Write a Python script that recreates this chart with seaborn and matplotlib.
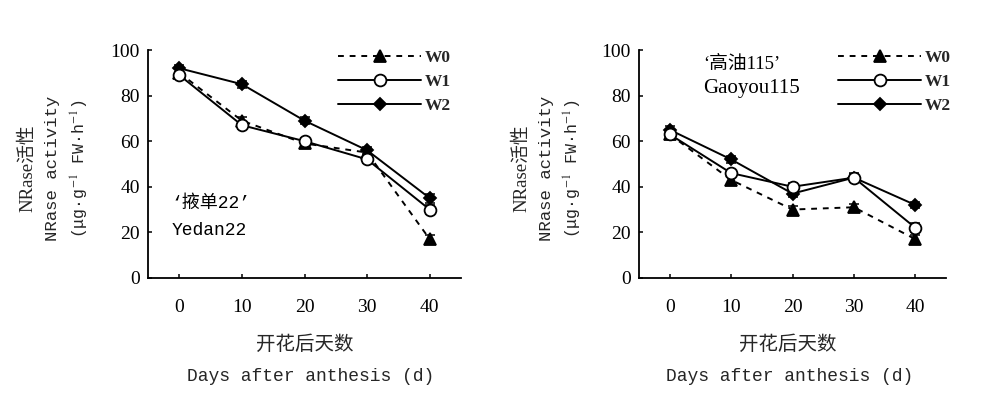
import matplotlib
matplotlib.use("Agg")
import matplotlib.pyplot as plt
import seaborn as sns
import pandas as pd

# ---------------- data ----------------
days = [0, 10, 20, 30, 40]
series_names = ["W0", "W1", "W2"]

yedan_w0 = [90, 69, 59, 55, 17]
yedan_w1 = [89, 67, 60, 52, 30]
yedan_w2 = [92, 85, 69, 56, 35]
yedan_w0_err = [1.5, 1.5, 1.5, 1.5, 2.0]
yedan_w1_err = [1.5, 1.5, 1.5, 1.5, 2.0]
yedan_w2_err = [1.5, 1.5, 1.5, 1.5, 2.0]

gaoyou_w0 = [63, 43, 30, 31, 17]
gaoyou_w1 = [63, 46, 40, 44, 22]
gaoyou_w2 = [65, 52, 37, 44, 32]
gaoyou_w0_err = [1.5, 1.5, 1.5, 1.5, 2.0]
gaoyou_w1_err = [1.5, 1.5, 1.5, 2.0, 2.0]
gaoyou_w2_err = [1.5, 1.5, 1.5, 1.5, 1.5]

x_ticks = [0, 10, 20, 30, 40]
y_ticks = [0, 20, 40, 60, 80, 100]

cultivar_cn = ["‘掖单22’", "‘高油115’"]
cultivar_en = ["Yedan22", "Gaoyou115"]
ylabel_lines = ["NRase活性", "NRase activity", "(μg·g$^{-1}$ FW·h$^{-1}$)"]
xlabel_cn = "开花后天数"
xlabel_en = "Days after anthesis (d)"

# ---------------- style ----------------
sns.set_style("ticks")
plt.rcParams["font.family"] = ["Liberation Serif", "Noto Sans CJK SC", "DejaVu Sans"]
plt.rcParams["mathtext.fontset"] = "stix"

SERIF = ["Liberation Serif", "Noto Sans CJK SC", "DejaVu Sans"]
MONO = ["Liberation Mono", "Noto Sans CJK SC", "DejaVu Sans"]
CJK = ["Noto Sans CJK SC", "DejaVu Sans"]

styles = {
    "W0": dict(marker="^", dashes=(3, 3), mfc="black", ms=8),
    "W1": dict(marker="o", dashes=None, mfc="white", ms=8.5),
    "W2": dict(marker="D", dashes=None, mfc="black", ms=6),
}

fig = plt.figure(figsize=(10, 3.97), dpi=100)
ax_l = fig.add_axes([0.148, 0.300, 0.313, 0.574])
ax_r = fig.add_axes([0.639, 0.300, 0.307, 0.574])

panels = [
    (ax_l, {"W0": (yedan_w0, yedan_w0_err), "W1": (yedan_w1, yedan_w1_err), "W2": (yedan_w2, yedan_w2_err)},
     (-1.2, 32.5, 13, MONO), (-1.2, 21, 13, MONO), 0.607,
     [-0.383, -0.304, -0.217], (0.50, 0.52)),
    (ax_r, {"W0": (gaoyou_w0, gaoyou_w0_err), "W1": (gaoyou_w1, gaoyou_w1_err), "W2": (gaoyou_w2, gaoyou_w2_err)},
     (5.4, 93.5, 13.5, SERIF), (5.4, 83, 15, SERIF), 0.648,
     [-0.381, -0.300, -0.215], (0.485, 0.49)),
]

for i, (ax, data, cnpos, enpos, legx, ylx, xlx) in enumerate(panels):
    handles = {}
    for name in ["W0", "W2", "W1"]:
        vals, errs = data[name]
        st = styles[name]
        df = pd.DataFrame({"day": days, "value": vals})
        sns.lineplot(data=df, x="day", y="value", ax=ax, color="black",
                     linewidth=1.4, marker=st["marker"], markersize=st["ms"],
                     markerfacecolor=st["mfc"], markeredgecolor="black",
                     markeredgewidth=1.3, label=name, zorder=3)
        line = ax.lines[-1]
        if st["dashes"] is not None:
            line.set_dashes(st["dashes"])
        handles[name] = line
        ax.errorbar(days, vals, yerr=errs, fmt="none", ecolor="black",
                    elinewidth=1.1, capsize=3.5, capthick=1.1, zorder=2)

    ax.set_xlim(-5, 45)
    ax.set_ylim(0, 100)
    ax.set_xticks(x_ticks)
    ax.set_yticks(y_ticks)
    ax.set_xlabel("")
    ax.set_ylabel("")
    for s in ["top", "right"]:
        ax.spines[s].set_visible(False)
    for s in ["left", "bottom"]:
        ax.spines[s].set_linewidth(1.3)
        ax.spines[s].set_color("black")
    ax.tick_params(axis="both", direction="in", length=3, width=1.1, colors="black",
                   labelsize=14)
    ax.tick_params(axis="x", pad=15)
    ax.tick_params(axis="y", pad=6)
    for lab in ax.get_xticklabels() + ax.get_yticklabels():
        lab.set_family(SERIF)

    ax.legend([handles[n] for n in series_names], series_names,
              loc="upper left", bbox_to_anchor=(legx, 1.0),
              frameon=False, handlelength=4.8, handletextpad=0.2,
              labelspacing=0.45, borderpad=0, borderaxespad=0,
              prop={"family": SERIF, "size": 12.5, "weight": "bold"})

    # cultivar annotations
    ax.text(cnpos[0], cnpos[1], cultivar_cn[i], ha="left", va="center",
            fontsize=cnpos[2], family=cnpos[3], color="black")
    ax.text(enpos[0], enpos[1], cultivar_en[i], ha="left", va="center",
            fontsize=enpos[2], family=enpos[3], color="black")

    # y-axis label (three lines)
    ax.text(ylx[0], 0.48, ylabel_lines[0], transform=ax.transAxes, rotation=90,
            ha="center", va="center", fontsize=13.5, family=SERIF)
    ax.text(ylx[1], 0.48, ylabel_lines[1], transform=ax.transAxes, rotation=90,
            ha="center", va="center", fontsize=12.5, family=MONO)
    ax.text(ylx[2], 0.48, ylabel_lines[2], transform=ax.transAxes, rotation=90,
            ha="center", va="center", fontsize=12, family=MONO)

    # x-axis label (two lines)
    ax.text(xlx[0], -0.294, xlabel_cn, transform=ax.transAxes, ha="center",
            va="center", fontsize=14, family=CJK)
    ax.text(xlx[1], -0.434, xlabel_en, transform=ax.transAxes, ha="center",
            va="center", fontsize=13, family=MONO)

fig.savefig("out.png", dpi=100, facecolor="white")
